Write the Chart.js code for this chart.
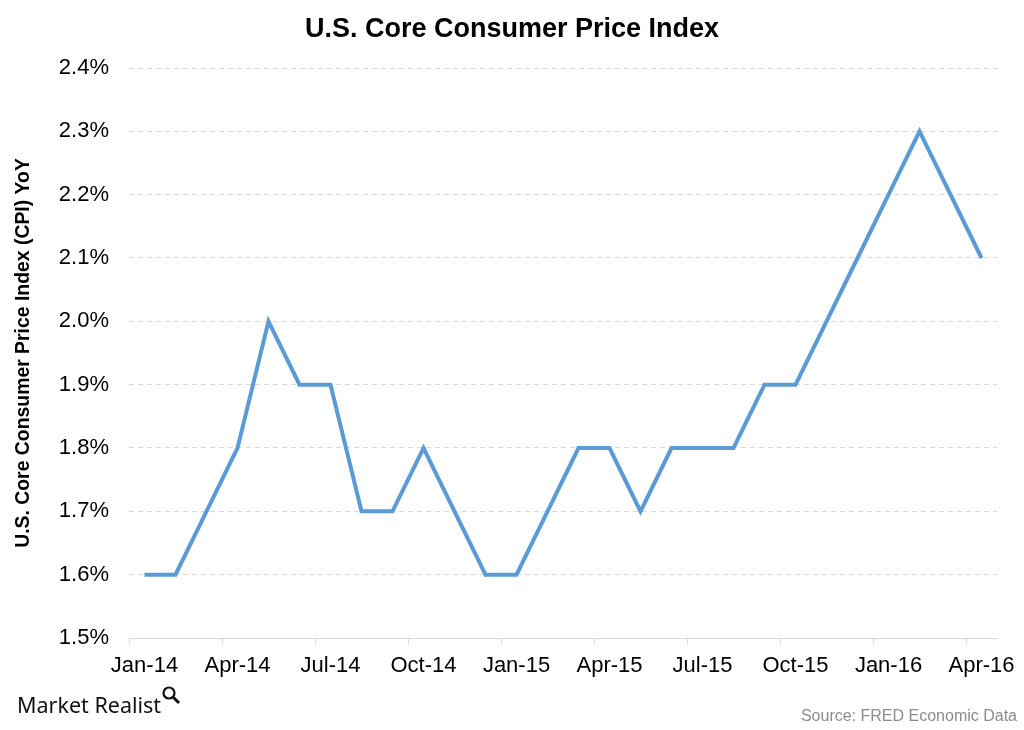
<!DOCTYPE html>
<html>
<head>
<meta charset="utf-8">
<title>U.S. Core Consumer Price Index</title>
<script src="https://cdn.jsdelivr.net/npm/chart.js@4.4.1/dist/chart.umd.min.js"></script>
<style>
  html, body { margin: 0; padding: 0; background: #fff; }
</style>
</head>
<body>
<canvas id="cpiChart" width="1024" height="730"></canvas>
<script>
// monthly data, Jan-14 .. Apr-16
const months = [
  'Jan-14', 'Feb-14', 'Mar-14', 'Apr-14', 'May-14', 'Jun-14', 'Jul-14', 'Aug-14', 'Sep-14', 'Oct-14', 'Nov-14', 'Dec-14',
  'Jan-15', 'Feb-15', 'Mar-15', 'Apr-15', 'May-15', 'Jun-15', 'Jul-15', 'Aug-15', 'Sep-15', 'Oct-15', 'Nov-15', 'Dec-15',
  'Jan-16', 'Feb-16', 'Mar-16', 'Apr-16'
];
const coreCpi = [
  1.6, 1.6, 1.7, 1.8, 2.0, 1.9, 1.9, 1.7, 1.7, 1.8, 1.7, 1.6,
  1.6, 1.7, 1.8, 1.8, 1.7, 1.8, 1.8, 1.8, 1.9, 1.9, 2.0, 2.1,
  2.2, 2.3, 2.2, 2.1
];
const yMin = 1.5;
const yMax = 2.4;
const yStep = 0.1;
const labelEvery = 3; // quarterly labels

const chartTitle = 'U.S. Core Consumer Price Index';
const gridGrey = '#d9d9d9';
const fontFamily = '"Liberation Sans", Arial, sans-serif';

// title centred on the page, logo + source line at the bottom
const pageText = {
  id: 'pageText',
  afterDraw(chart) {
    const ctx = chart.ctx;
    ctx.save();
    ctx.fillStyle = '#000';
    ctx.font = 'bold 27px ' + fontFamily;
    ctx.textAlign = 'center';
    ctx.textBaseline = 'middle';
    ctx.fillText(chartTitle, 512, 30);

    ctx.textAlign = 'left';
    ctx.textBaseline = 'alphabetic';
    ctx.fillStyle = '#111';
    ctx.font = '21.5px "Noto Sans", sans-serif';
    ctx.fillText('Market Realist', 17, 713);

    // little magnifier next to the logo
    ctx.strokeStyle = '#111';
    ctx.lineWidth = 2.2;
    ctx.beginPath();
    ctx.arc(169, 693, 5.5, 0, Math.PI * 2);
    ctx.stroke();
    ctx.lineWidth = 3;
    ctx.beginPath();
    ctx.moveTo(173.5, 697.5);
    ctx.lineTo(179, 703);
    ctx.stroke();

    ctx.fillStyle = '#8c8c8c';
    ctx.font = '16px ' + fontFamily;
    ctx.textAlign = 'right';
    ctx.fillText('Source: FRED Economic Data', 1017, 721);
    ctx.restore();
  }
};

const cpiChart = new Chart(document.getElementById('cpiChart'), {
  type: 'line',
  data: {
    labels: months,
    datasets: [{
      label: 'U.S. Core CPI YoY',
      data: coreCpi,
      borderColor: '#5b9bd5',
      borderWidth: 4,
      pointRadius: 0,
      tension: 0,
      fill: false
    }]
  },
  options: {
    responsive: false,
    animation: false,
    devicePixelRatio: 1,
    layout: { padding: { left: 0, right: 26, top: 68, bottom: 42 } },
    plugins: {
      legend: { display: false },
      tooltip: { enabled: false },
      title: { display: false }
    },
    scales: {
      x: {
        type: 'category',
        offset: true,
        afterFit: (scale) => { scale.height = 50; },
        grid: {
          offset: true,
          drawOnChartArea: false,
          drawTicks: true,
          tickLength: 6,
          tickWidth: 1,
          tickColor: (ctx) => (ctx.index % labelEvery === 0 && ctx.index < months.length) ? gridGrey : 'rgba(0,0,0,0)'
        },
        border: { display: true, color: gridGrey, width: 1 },
        ticks: {
          autoSkip: false,
          maxRotation: 0,
          minRotation: 0,
          padding: 9,
          color: '#000',
          font: { family: fontFamily, size: 22 },
          callback: (value, i) => i % labelEvery === 0 ? months[i] : ''
        }
      },
      y: {
        min: yMin,
        max: yMax,
        afterFit: (scale) => { scale.width = 129; },
        grid: {
          drawTicks: false,
          lineWidth: 1,
          color: (ctx) => ctx.index === 0 ? 'rgba(0,0,0,0)' : gridGrey
        },
        border: { display: false, dash: [5, 4] },
        ticks: {
          stepSize: yStep,
          padding: 20,
          color: '#000',
          font: { family: fontFamily, size: 22 },
          callback: (value) => value.toFixed(1) + '%'
        },
        title: {
          display: true,
          text: 'U.S. Core Consumer Price Index (CPI) YoY',
          color: '#000',
          font: { family: fontFamily, size: 19.4, weight: 'bold' },
          padding: { top: 12, bottom: 0 }
        }
      }
    }
  },
  plugins: [pageText]
});
</script>
</body>
</html>
